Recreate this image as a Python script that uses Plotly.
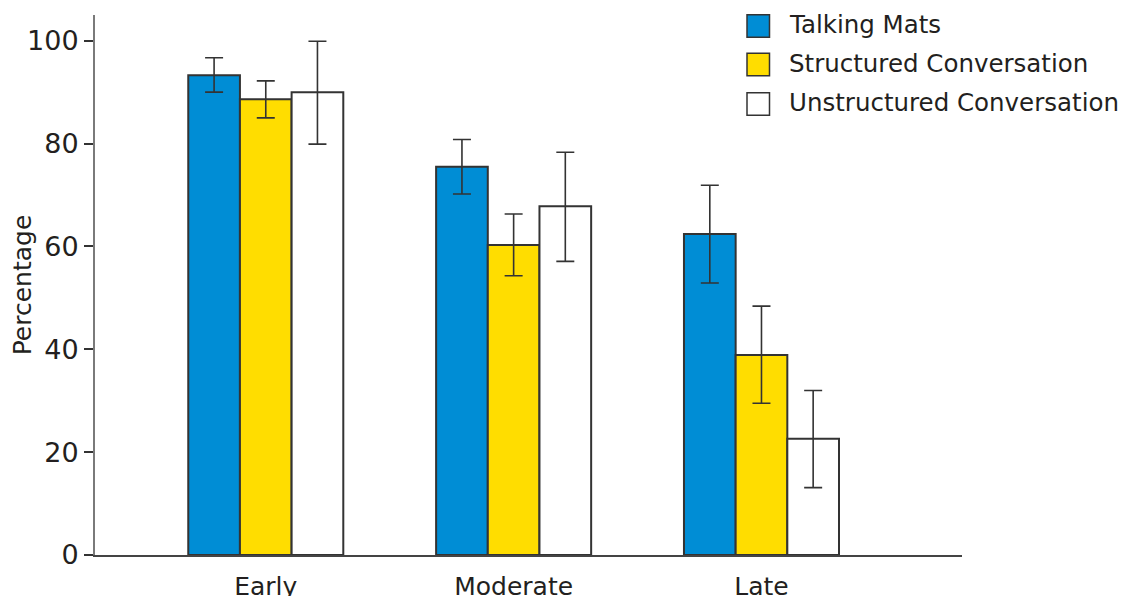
import plotly.graph_objects as go

categories = ["Early", "Moderate", "Late"]
series_names = ["Talking Mats", "Structured Conversation", "Unstructured Conversation"]
talking_mats = [93.3, 75.5, 62.4]
structured = [88.6, 60.3, 38.9]
unstructured = [90.0, 67.8, 22.6]
talking_mats_err_plus = [3.4, 5.3, 9.5]
talking_mats_err_minus = [3.3, 5.3, 9.5]
structured_err_plus = [3.6, 6.0, 9.5]
structured_err_minus = [3.6, 6.0, 9.4]
unstructured_err_plus = [9.9, 10.5, 9.4]
unstructured_err_minus = [10.1, 10.7, 9.5]
y_ticks = [0, 20, 40, 60, 80, 100]

colors = ["#008DD5", "#FFDD00", "#FFFFFF"]
values = [talking_mats, structured, unstructured]
err_plus = [talking_mats_err_plus, structured_err_plus, unstructured_err_plus]
err_minus = [talking_mats_err_minus, structured_err_minus, unstructured_err_minus]

FONT = "DejaVu Sans"
TXT = "#231F20"

fig = go.Figure()
xs = list(range(len(categories)))
for name, vals, ep, em, col in zip(series_names, values, err_plus, err_minus, colors):
    fig.add_trace(go.Bar(
        x=xs, y=vals, name=name,
        marker=dict(color=col, line=dict(color="#333333", width=2)),
        error_y=dict(type="data", array=ep, arrayminus=em, symmetric=False,
                     color="#333333", thickness=1.6, width=9),
        showlegend=False,
    ))

# page body has an 8px offset; plot area on screen: x 95..962, y 15..555
W, H = 1129, 596
OFF = 8
L, T = 95 - OFF, 15 - OFF
R = W - (962 - OFF)
B = H - (555 - OFF)
def px(x):
    return (x - 95) / 867
def py(y):
    return (555 - y) / 540

row_y = [26, 64.5, 104]
for name, col, yc in zip(series_names, colors, row_y):
    fig.add_shape(type="rect", xref="paper", yref="paper",
                  x0=px(747), x1=px(769.5), y0=py(yc + 11.3), y1=py(yc - 11.3),
                  fillcolor=col, line=dict(color="#333333", width=1.5))
    fig.add_annotation(xref="paper", yref="paper", x=px(787), y=py(yc - 1.5),
                       text=name, showarrow=False, xanchor="left", yanchor="middle",
                       font=dict(family=FONT, size=24.5, color=TXT))

fig.update_layout(
    width=W, height=H,
    margin=dict(l=L, r=R, t=T, b=B, autoexpand=False),
    paper_bgcolor="white", plot_bgcolor="white",
    barmode="group", bargap=0.3745, bargroupgap=0,
    font=dict(family=FONT, size=25, color=TXT),
    xaxis=dict(
        range=[-0.689, 2.809], tickmode="array", tickvals=xs, ticktext=categories,
        showgrid=False, zeroline=False, showline=True, linecolor="#444444", linewidth=2,
        ticks="", ticklabelstandoff=8, automargin=False,
        tickfont=dict(family=FONT, size=25, color=TXT),
    ),
    yaxis=dict(
        range=[0, 105], tickvals=y_ticks, automargin=False,
        showgrid=False, zeroline=False, showline=True, linecolor="#7A7A7A", linewidth=2,
        ticks="outside", ticklen=9, tickwidth=1.5, tickcolor="#333333",
        tickfont=dict(family=FONT, size=27, color=TXT),
        title=dict(text="Percentage", font=dict(family=FONT, size=25, color=TXT), standoff=3),
    ),
)

fig.write_html("out.html")
